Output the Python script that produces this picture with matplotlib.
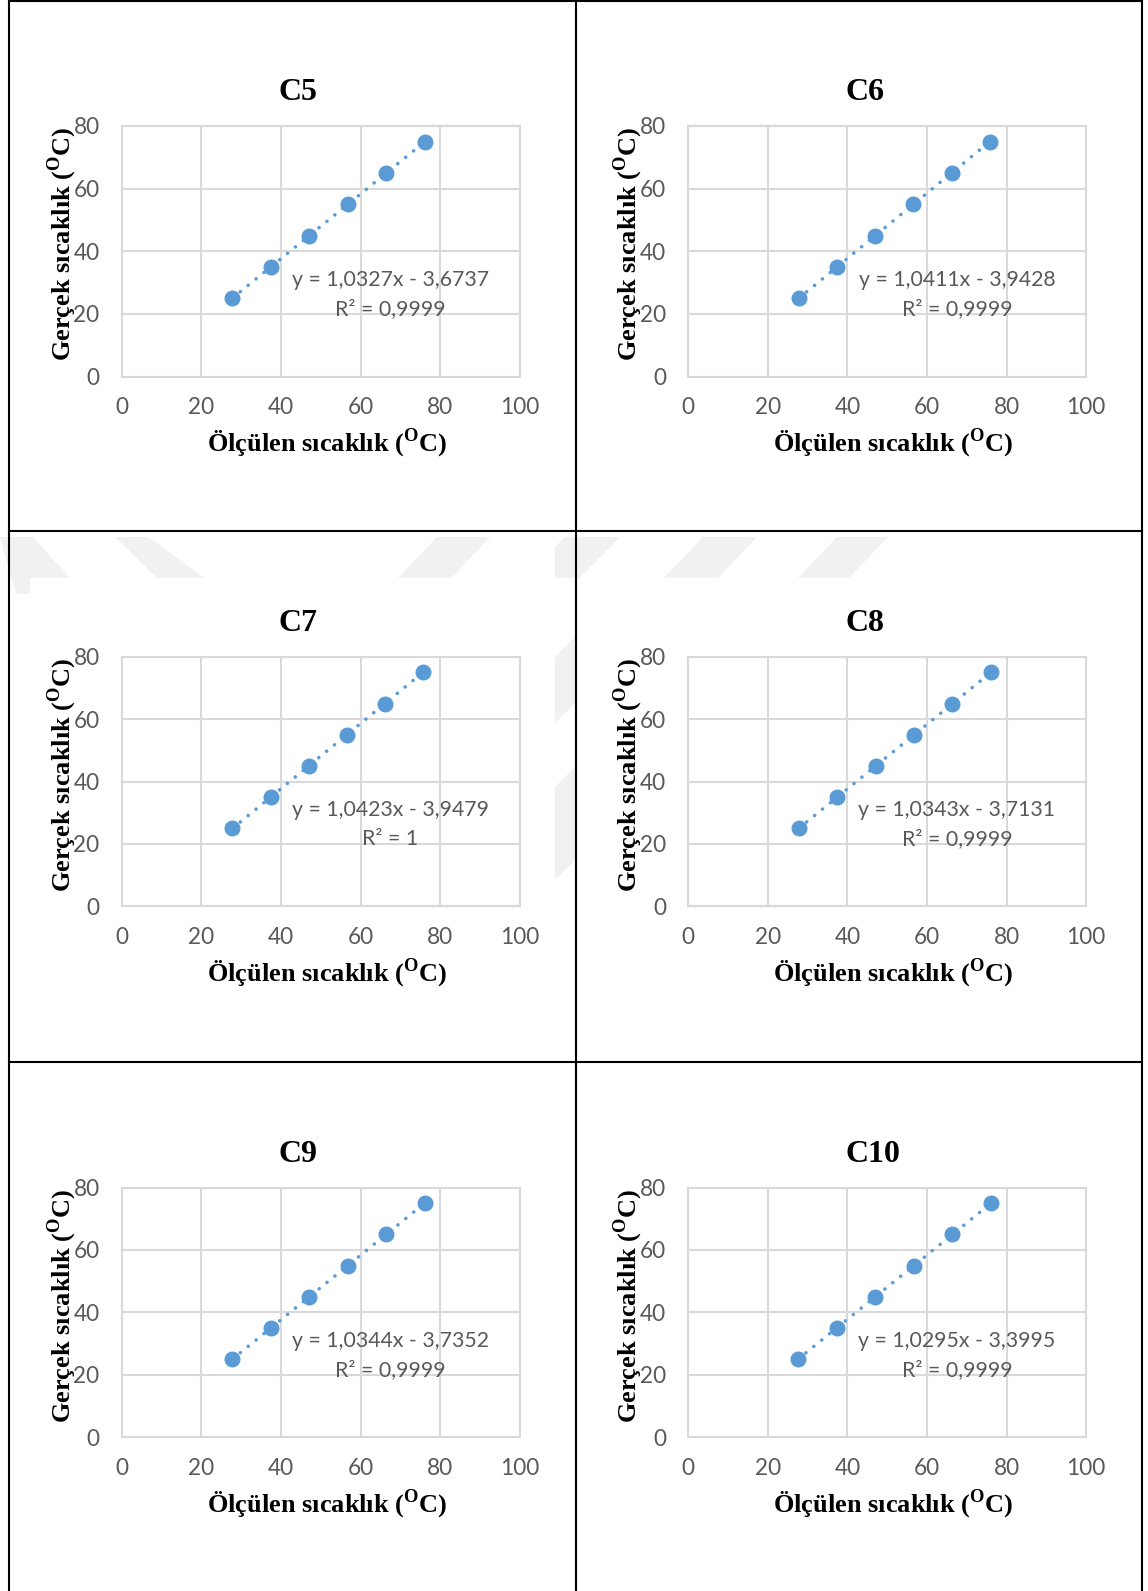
import numpy as np
import matplotlib
matplotlib.use('Agg')
import matplotlib.pyplot as plt
from matplotlib.lines import Line2D
from matplotlib.patches import Polygon

plt.rcParams['mathtext.fontset'] = 'custom'
plt.rcParams['mathtext.rm'] = 'Liberation Serif'
plt.rcParams['mathtext.bf'] = 'Liberation Serif:bold'

# data
############################################################
names = ['C5', 'C6', 'C7', 'C8', 'C9', 'C10']
gercek = [25, 35, 45, 55, 65, 75]
olculen_c5 = [27.8, 37.4, 47.1, 56.8, 66.5, 76.2]
olculen_c6 = [27.8, 37.4, 47.0, 56.6, 66.2, 75.8]
olculen_c7 = [27.8, 37.4, 47.0, 56.5, 66.1, 75.7]
olculen_c8 = [27.8, 37.4, 47.1, 56.8, 66.4, 76.1]
olculen_c9 = [27.8, 37.4, 47.1, 56.8, 66.4, 76.1]
olculen_c10 = [27.6, 37.3, 47.0, 56.7, 66.4, 76.1]
olculen_all = [olculen_c5, olculen_c6, olculen_c7, olculen_c8, olculen_c9, olculen_c10]
denklem = ['y = 1,0327x - 3,6737', 'y = 1,0411x - 3,9428', 'y = 1,0423x - 3,9479',
           'y = 1,0343x - 3,7131', 'y = 1,0344x - 3,7352', 'y = 1,0295x - 3,3995']
r2 = ['R² = 0,9999', 'R² = 0,9999', 'R² = 1', 'R² = 0,9999', 'R² = 0,9999', 'R² = 0,9999']
xticks = [0, 20, 40, 60, 80, 100]
yticks = [0, 20, 40, 60, 80]
############################################################

W, H = 1148, 1591
fig = plt.figure(figsize=(W / 100, H / 100), dpi=100)

blue = '#5B9BD5'
grid_c = '#D9D9D9'
tick_c = '#595959'

def fx(px):
    return px / W

def fy(py):
    return 1 - py / H

# faint page watermark behind the middle row (pixel outlines)
watermark = [
    [(0, 537), (33, 537), (70, 578), (30, 578), (30, 594), (16, 594)],
    [(115, 537), (148, 537), (205, 578), (157, 578)],
    [(437, 537), (490, 537), (451, 578), (398, 578)],
    [(565, 537), (620, 537), (594, 563), (576, 581), (576, 578), (555, 578), (555, 547)],
    [(703, 537), (757, 537), (718, 578), (664, 578)],
    [(837, 537), (888, 537), (849, 578), (798, 578)],
    [(555, 657), (576, 636), (576, 702), (555, 723)],
    [(555, 787), (576, 766), (576, 859), (555, 880)],
]
for poly in watermark:
    fig.add_artist(Polygon([(fx(a), fy(b)) for a, b in poly], closed=True,
                           facecolor='#F1F1F1', edgecolor='none', zorder=0))

# plot area corners in pixels
lefts = [121.8, 688.2]
rows = [(125.9, 376.6), (656.7, 906.4), (1187.6, 1437.2)]
pw = 398.0

for i, name in enumerate(names):
    L = lefts[i % 2]
    T, B = rows[i // 2]
    ax = fig.add_axes([fx(L), fy(B), pw / W, (B - T) / H])
    x = olculen_all[i]
    # linear trend line
    k, b = np.polyfit(x, gercek, 1)
    xx = np.array([x[0], x[-1]])
    ax.plot(xx, k * xx + b, color=blue, lw=2.6, ls=(0, (0.01, 2.8)),
            dash_capstyle='round', zorder=2)
    ax.plot(x, gercek, 'o', color=blue, ms=10.5, mec=blue, zorder=3)
    ax.set_xlim(0, 100)
    ax.set_ylim(0, 80)
    ax.set_xticks(xticks)
    ax.set_yticks(yticks)
    ax.grid(True, color=grid_c, lw=1.5)
    ax.set_axisbelow(True)
    for s in ax.spines.values():
        s.set_color(grid_c)
        s.set_linewidth(1.5)
    ax.tick_params(length=0, labelsize=16.3, labelcolor=tick_c)
    ax.tick_params(axis='y', pad=16)
    ax.tick_params(axis='x', pad=15)
    for lab in ax.get_xticklabels() + ax.get_yticklabels():
        lab.set_family('Lato')
    ax.text(67.5, 30.8, denklem[i], ha='center', va='center', fontsize=15.3,
            color=tick_c, family='Lato')
    ax.text(67.5, 21.6, r2[i], ha='center', va='center', fontsize=15.3,
            color=tick_c, family='Lato')

    fig.text(fx(L + 157), fy(T - 33), name, ha='left', va='center', fontsize=23,
             fontweight='bold', family='Liberation Serif')
    fig.text(fx(L + 205), fy(B + 67), r'Ölçülen sıcaklık ($^{\mathbf{O}}$C)', ha='center',
             va='center', fontsize=19, fontweight='bold', family='Liberation Serif')
    fig.text(fx(L - 60), fy(T + 118), r'Gerçek sıcaklık ($^{\mathbf{O}}$C)', ha='center',
             va='center', rotation=90, fontsize=19, fontweight='bold', family='Liberation Serif')

# table borders
for xv in [8.5, 575.5, 1141.5]:
    fig.add_artist(Line2D([fx(xv), fx(xv)], [0, 1], color='black', lw=1.5))
for yv in [1, 530.5, 1062]:
    fig.add_artist(Line2D([fx(8.5), fx(1141.5)], [fy(yv), fy(yv)], color='black', lw=1.5))

fig.savefig('out.png', dpi=100)
